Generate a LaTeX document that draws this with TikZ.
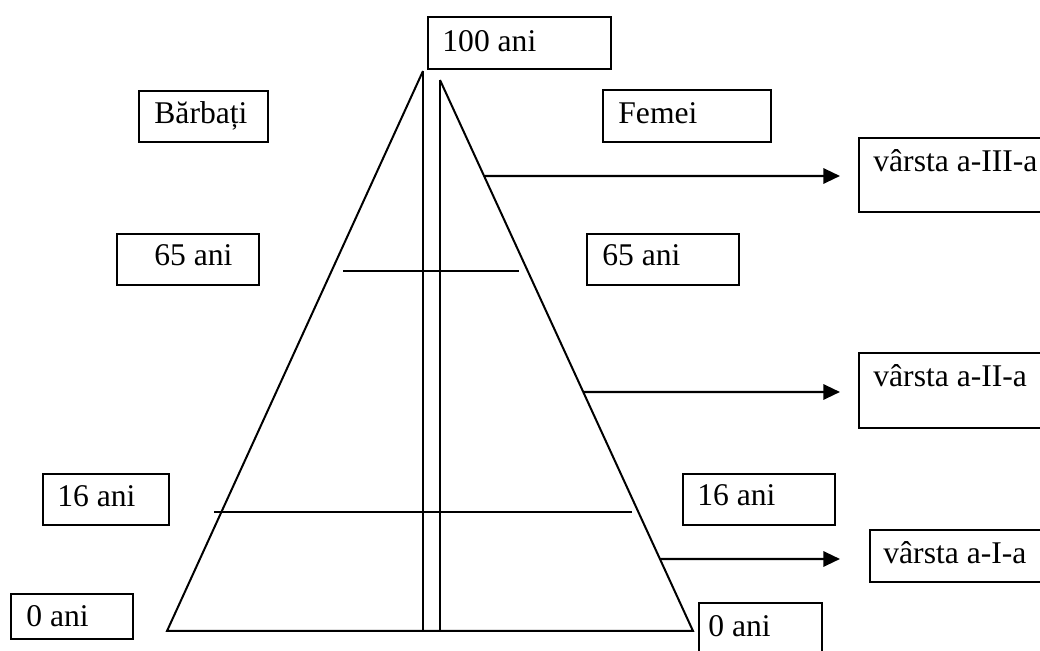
\documentclass[tikz,border=0pt]{standalone}
\usepackage{fontspec}
\setmainfont{Liberation Serif}
\usetikzlibrary{arrows.meta,fit,calc}
\begin{document}
\begin{tikzpicture}[x=0.5pt,y=-0.5pt,
  box/.style={draw, line width=1.2pt, inner sep=0pt},
  txt/.style={anchor=base west, inner sep=0pt, font=\fontsize{15.8}{18}\selectfont},
  side/.style={line width=1pt},
  arr/.style={line width=1.2pt, -{Triangle[length=8.3pt,width=7.6pt]}}]
\useasboundingbox (0,0) rectangle (1040,651);
\begin{scope}
\clip (0,0) rectangle (1040,651);
% boxes
\node[box, fit={(428,17) (611,69)}] (b100) {};
\node[txt] (t100) at (442,52) {100 ani};
\node[box, fit={(139,91) (268,142)}] (bB) {};
\node[txt] (tB) at (154,124) {Bărbați};
\node[box, fit={(603,90) (771,142)}] (bF) {};
\node[txt] (tF) at (618,124) {Femei};
\node[box, fit={(859,138) (1050,212)}] (bIII) {};
\node[txt] (tIII) at (873,172) {vârsta a-III-a};
\node[box, fit={(859,353) (1050,428)}] (bII) {};
\node[txt] (tII) at (873,387) {vârsta a-II-a};
\node[box, fit={(117,234) (259,285)}] (b65L) {};
\node[txt] (t65L) at (154,266) {65 ani};
\node[box, fit={(587,234) (739,285)}] (b65R) {};
\node[txt] (t65R) at (602,266) {65 ani};
\node[box, fit={(43,474) (169,525)}] (b16L) {};
\node[txt] (t16L) at (57,506.5) {16 ani};
\node[box, fit={(683,474) (835,525)}] (b16R) {};
\node[txt] (t16R) at (697,506) {16 ani};
\node[box, fit={(870,530) (1050,582)}] (bI) {};
\node[txt] (tI) at (883,564) {vârsta a-I-a};
\node[box, fit={(11,594) (133,639)}] (b0L) {};
\node[txt] (t0L) at (26,627) {0 ani};
\node[box, fit={(699,603) (822,665)}] (b0R) {};
\node[txt] (t0R) at (708,637) {0 ani};
\end{scope}
% pyramid
\coordinate (apexL) at (423,71);
\coordinate (apexR) at (440,80);
\coordinate (baseL) at (167,631);
\coordinate (baseR) at (693,631);
\coordinate (vLbot) at (423,631);
\coordinate (vRbot) at (440,631);
\draw[side] (apexL) -- (baseL) -- (baseR) -- (apexR);
\draw[side] (apexL) -- (vLbot);
\draw[side] (apexR) -- (vRbot);
\coordinate (h65a) at (343,271);
\coordinate (h65b) at (519,271);
\coordinate (h16a) at (214,512);
\coordinate (h16b) at (632,512);
\draw[side] (h65a) -- (h65b);
\draw[side] (h16a) -- (h16b);
% arrows
\coordinate (sIII) at ($(apexR)!0.1742!(baseR)$);
\coordinate (eIII) at (840,176);
\coordinate (sII) at ($(apexR)!0.5662!(baseR)$);
\coordinate (eII) at (840,392);
\coordinate (sI) at ($(apexR)!0.8693!(baseR)$);
\coordinate (eI) at (840,559);
\draw[arr] (sIII) -- (eIII);
\draw[arr] (sII) -- (eII);
\draw[arr] (sI) -- (eI);
\end{tikzpicture}
\end{document}
